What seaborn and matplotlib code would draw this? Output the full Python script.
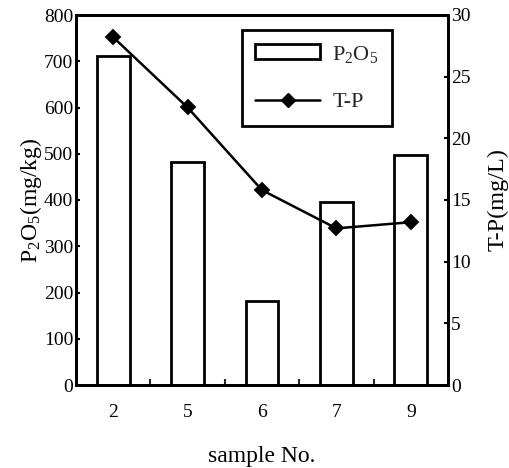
import matplotlib
matplotlib.use("Agg")
import matplotlib.pyplot as plt
import seaborn as sns
import pandas as pd
from matplotlib.patches import Patch
from matplotlib.lines import Line2D
from matplotlib.ticker import FixedLocator

samples = ["2", "5", "6", "7", "9"]
p2o5 = [712, 483, 182, 396, 497]
tp = [28.2, 22.5, 15.8, 12.7, 13.2]

sns.set_theme(style="white")
plt.rcParams["font.family"] = ["Liberation Serif", "DejaVu Serif"]
plt.rcParams["mathtext.fontset"] = "custom"
plt.rcParams["mathtext.rm"] = "Liberation Serif"
plt.rcParams["mathtext.it"] = "Liberation Serif"

df = pd.DataFrame({"sample": samples, "p2o5": p2o5, "tp": tp})

fig = plt.figure(figsize=(5.10, 4.68), dpi=100)
ax = fig.add_axes([76/510, 1-385/468, 372/510, 370/468])

sns.barplot(data=df, x="sample", y="p2o5", order=samples, ax=ax,
            color="white", edgecolor="black", linewidth=2, width=0.44,
            saturation=1)

ax2 = ax.twinx()
sns.pointplot(data=df, x="sample", y="tp", order=samples, ax=ax2,
              color="black", markers="D", linestyles="-",
              markersize=7, linewidth=1.8)

ax.set_xlim(-0.5, 4.5)
ax.set_ylim(0, 800)
ax2.set_ylim(0, 30)
ax.set_yticks(range(0, 801, 100))
ax2.set_yticks(range(0, 31, 5))

fs = 14
lfs = 17
ax.tick_params(axis="y", direction="in", length=3, width=1.5, labelsize=fs, pad=2, colors="black")
ax2.tick_params(axis="y", direction="in", length=3, width=1.5, labelsize=fs, pad=2, colors="black")
ax.tick_params(axis="x", which="major", length=0, labelsize=fs, pad=14, colors="black")
ax.xaxis.set_minor_locator(FixedLocator([0.5, 1.5, 2.5, 3.5]))
ax.tick_params(axis="x", which="minor", direction="in", length=4, width=1.5, bottom=True)

for a in (ax, ax2):
    for s in a.spines.values():
        s.set_visible(True)
        s.set_color("black")
        s.set_linewidth(2)

ax.set_xlabel("sample No.", fontsize=lfs, labelpad=18, color="black")
ax.set_ylabel(r"P$_{\mathrm{2}}$O$_{\mathrm{5}}$(mg/kg)", fontsize=lfs, labelpad=0, color="black")
ax2.set_ylabel("T-P(mg/L)", fontsize=17.5, labelpad=12, color="black")

handles = [Patch(facecolor="white", edgecolor="black", linewidth=2),
           Line2D([], [], color="black", marker="D", markersize=7, linewidth=1.8)]
labels = [r"P$_{\mathrm{2}}$O$_{\mathrm{5}}$", "T-P"]
leg = ax2.legend(handles, labels, loc="upper left", bbox_to_anchor=(0.446, 0.959),
                 frameon=True, fancybox=False, framealpha=1, fontsize=16,
                 handlelength=2.93, handleheight=0.63, handletextpad=0.54,
                 labelspacing=1.25, borderpad=0.6, borderaxespad=0)
leg.get_frame().set_edgecolor("black")
leg.get_frame().set_linewidth(2)

fig.savefig("out.png", dpi=100)
